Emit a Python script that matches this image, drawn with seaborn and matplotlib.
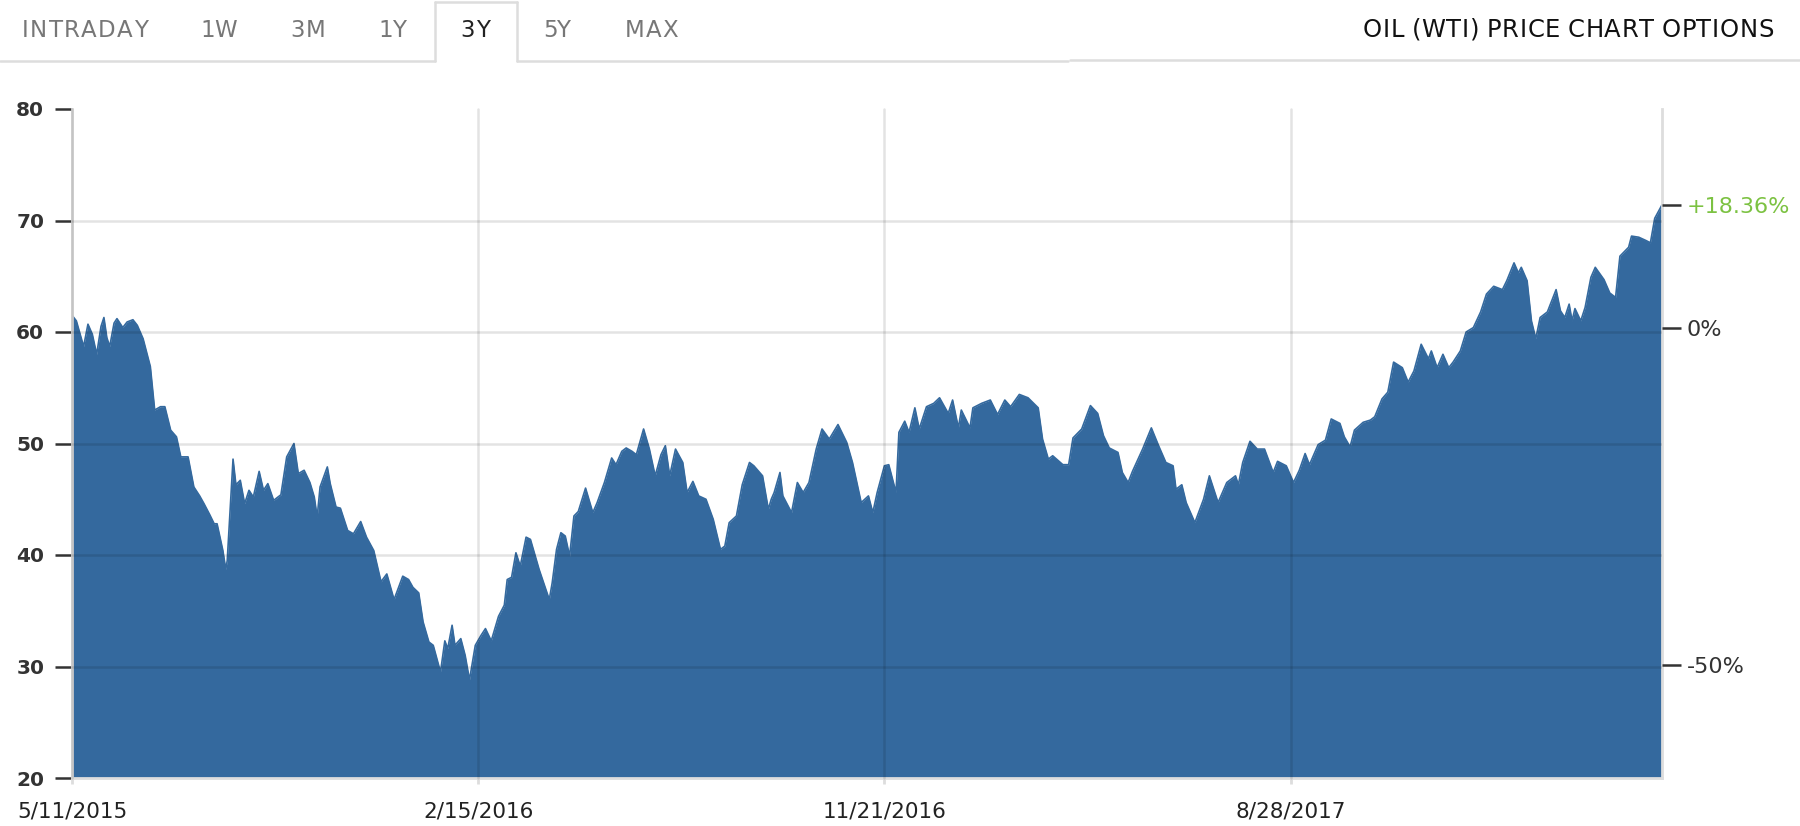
import matplotlib
matplotlib.use("Agg")
import matplotlib.pyplot as plt
from matplotlib.lines import Line2D
from matplotlib.font_manager import FontProperties
import seaborn as sns
import pandas as pd

# WTI close, days after 5/11/2015
start_date = "2015-05-11"
days = [0, 3, 8, 11, 14, 17, 20, 22, 24, 26, 29, 31, 35, 38, 42, 45, 49, 54, 57, 61,
        64, 68, 72, 75, 80, 84, 88, 91, 95, 98, 100, 104, 106, 107, 111, 113, 116, 119, 122, 125,
        129, 132, 135, 139, 144, 148, 153, 156, 160, 164, 167, 169, 171, 176, 178, 182, 185, 190, 194, 199,
        203, 208, 213, 217, 222, 228, 232, 235, 239, 242, 246, 249, 254, 257, 259, 262, 264, 268, 271, 274,
        278, 282, 285, 289, 294, 298, 300, 303, 306, 309, 313, 316, 322, 329, 331, 334, 337, 340, 343, 346,
        349, 354, 359, 362, 367, 372, 375, 379, 382, 386, 389, 394, 398, 402, 406, 409, 412, 416, 421, 424,
        428, 432, 437, 442, 447, 450, 453, 458, 462, 467, 470, 476, 480, 482, 484, 488, 490, 496, 500, 504,
        508, 513, 517, 522, 528, 534, 538, 544, 549, 552, 555, 560, 563, 568, 570, 574, 577, 581, 584, 589,
        594, 598, 604, 607, 611, 613, 619, 621, 627, 633, 638, 643, 647, 653, 659, 666, 669, 673, 676, 683,
        687, 690, 696, 702, 707, 711, 715, 721, 724, 728, 731, 738, 744, 749, 754, 759, 761, 765, 768, 774,
        780, 784, 790, 796, 802, 804, 807, 812, 817, 822, 828, 831, 837, 842, 846, 850, 853, 859, 864, 868,
        874, 877, 881, 884, 890, 895, 898, 903, 907, 911, 917, 921, 925, 930, 935, 937, 941, 945, 949, 952,
        957, 961, 966, 971, 975, 980, 986, 989, 994, 997, 999, 1003, 1006, 1009, 1012, 1017, 1020, 1023, 1026, 1029,
        1032, 1034, 1036, 1040, 1043, 1047, 1050, 1056, 1060, 1064, 1067, 1073, 1075, 1080, 1085, 1088, 1091, 1096]
price = [61.5, 61.0, 58.7, 60.7, 59.8, 58.0, 60.5, 61.3, 59.5, 58.7, 60.8, 61.2, 60.4, 60.9, 61.1, 60.6, 59.4, 56.9, 53.0, 53.3,
         53.3, 51.2, 50.6, 48.8, 48.8, 46.1, 45.3, 44.6, 43.6, 42.8, 42.8, 40.4, 38.7, 39.5, 48.6, 46.3, 46.7, 44.6, 45.8, 45.2,
         47.5, 45.8, 46.4, 44.9, 45.4, 48.8, 50.0, 47.3, 47.6, 46.5, 45.2, 43.4, 46.1, 47.9, 46.4, 44.3, 44.2, 42.2, 41.9, 43.0,
         41.6, 40.4, 37.6, 38.3, 36.0, 38.1, 37.8, 37.1, 36.6, 34.0, 32.2, 31.9, 29.5, 32.3, 31.6, 33.7, 31.9, 32.5, 31.0, 28.8,
         31.9, 32.8, 33.4, 32.3, 34.5, 35.5, 37.8, 38.0, 40.2, 39.0, 41.6, 41.4, 38.7, 36.0, 37.5, 40.5, 42.0, 41.7, 39.9, 43.5,
         43.9, 46.0, 43.8, 44.7, 46.5, 48.7, 48.1, 49.3, 49.6, 49.3, 49.0, 51.3, 49.5, 47.1, 49.0, 49.8, 47.1, 49.5, 48.3, 45.6,
         46.6, 45.3, 45.0, 43.2, 40.5, 40.8, 42.9, 43.5, 46.3, 48.3, 48.0, 47.1, 44.1, 45.0, 45.6, 47.4, 45.3, 43.8, 46.5, 45.6,
         46.5, 49.5, 51.3, 50.4, 51.7, 50.1, 48.3, 44.7, 45.3, 43.8, 45.6, 48.0, 48.1, 45.6, 51.0, 52.0, 51.0, 53.2, 51.3, 53.3,
         53.6, 54.1, 52.7, 53.9, 51.4, 53.0, 51.4, 53.2, 53.6, 53.9, 52.6, 53.9, 53.3, 54.4, 54.1, 53.2, 50.4, 48.6, 48.9, 48.1,
         48.1, 50.5, 51.3, 53.4, 52.7, 50.7, 49.6, 49.2, 47.4, 46.5, 47.5, 49.5, 51.4, 49.8, 48.3, 48.0, 45.9, 46.3, 44.7, 42.9,
         45.0, 47.1, 44.7, 46.5, 47.1, 46.3, 48.3, 50.2, 49.5, 49.5, 47.4, 48.4, 48.0, 46.5, 47.6, 49.1, 48.1, 49.9, 50.3, 52.2,
         51.8, 50.6, 49.7, 51.2, 51.9, 52.1, 52.4, 54.0, 54.6, 57.3, 56.8, 55.5, 56.5, 58.9, 57.6, 58.3, 56.8, 58.0, 56.8, 57.3,
         58.3, 60.0, 60.4, 61.8, 63.4, 64.1, 63.8, 64.6, 66.2, 65.3, 65.8, 64.6, 61.0, 59.4, 61.3, 61.8, 62.8, 63.8, 61.9, 61.3,
         62.5, 61.0, 62.1, 61.0, 62.2, 64.9, 65.8, 64.7, 63.5, 63.1, 66.8, 67.6, 68.6, 68.5, 68.2, 68.0, 70.2, 71.4]

tick_dates = ["2015-05-11", "2016-02-15", "2016-11-21", "2017-08-28"]
tick_labels = ["5/11/2015", "2/15/2016", "11/21/2016", "8/28/2017"]
y_ticks = [20, 30, 40, 50, 60, 70, 80]
change_pct = 18.36
pct_ticks = [0, -50]

tabs = ["INTRADAY", "1W", "3M", "1Y", "3Y", "5Y", "MAX"]
active_tab = "3Y"
title = "OIL (WTI) PRICE CHART OPTIONS"

FILL = "#34699e"
GREEN = "#7cc242"
GRID = (0, 0, 0, 0.11)

sns.set_theme(style="white")
plt.rcParams["font.family"] = ["DejaVu Sans"]

W, H = 1800, 826
fig = plt.figure(figsize=(W / 100, H / 100), dpi=100)
ax = fig.add_axes([72 / W, 1 - 778 / H, (1662 - 72) / W, (778 - 109) / H])

df = pd.DataFrame({"date": pd.Timestamp(start_date) + pd.to_timedelta(days, unit="D"),
                   "price": price})

ax.fill_between(df["date"], df["price"], y_ticks[0], color=FILL, lw=0, zorder=1)
sns.lineplot(data=df, x="date", y="price", color=FILL, lw=1.2, ax=ax, zorder=2)

ax.set_xlim(df["date"].iloc[0], df["date"].iloc[-1])
ax.set_ylim(y_ticks[0], y_ticks[-1])
ax.set_xlabel("")
ax.set_ylabel("")

# grid on top of the fill, so it shows a bit darker through the blue
for v in y_ticks[1:-1]:
    ax.axhline(v, color=GRID, lw=1.8, zorder=3)
for d in tick_dates:
    ax.axvline(pd.Timestamp(d), color=GRID, lw=1.8, zorder=3, clip_on=False)

ax.set_yticks(y_ticks)
ax.set_yticklabels([str(v) for v in y_ticks])
ax.set_xticks(pd.to_datetime(tick_dates))
ax.set_xticklabels(tick_labels)
ax.tick_params(axis="y", length=12, width=1.8, color="#333333", pad=8,
               labelsize=14.5, labelcolor="#333333", left=True)
ax.tick_params(axis="x", length=4, width=2, color="#dddddd", pad=13,
               labelsize=15.5, labelcolor="#222222", bottom=True)
for lbl in ax.get_yticklabels():
    lbl.set_fontweight("bold")

ax.spines["top"].set_visible(False)
for s in ["left", "right", "bottom"]:
    ax.spines[s].set_color("#dddddd")
    ax.spines[s].set_linewidth(2)

# right axis: change vs. the start of the period
last = price[-1]
base = last / (1 + change_pct / 100)
ax2 = ax.twinx()
ax2.set_ylim(y_ticks[0], y_ticks[-1])
ax2.set_yticks([last] + [base * (1 + p / 100) for p in pct_ticks])
ax2.set_yticklabels([f"+{change_pct:.2f}%"] + [f"{p}%" for p in pct_ticks])
ax2.tick_params(axis="y", length=14, width=1.8, color="#333333", pad=4,
                labelsize=16, labelcolor="#333333", right=True)
ax2.get_yticklabels()[0].set_color(GREEN)
ax2.grid(False)
for s in ax2.spines.values():
    s.set_visible(False)


# header: letter-spaced text between two x positions (pixels)
def tracked(text, left, right, base_y, size, color):
    fp = FontProperties(family="Liberation Sans Narrow", size=size)
    r = fig.canvas.get_renderer()
    ws = []
    for ch in text:
        if ch == " ":
            ws.append(size * 100 / 72 * 0.25)
        else:
            ws.append(r.get_text_width_height_descent(ch, fp, ismath=False)[0])
    gap = ((right - left) - sum(ws)) / max(len(text) - 1, 1)
    x = left
    for ch, w in zip(text, ws):
        fig.text(x / W, 1 - base_y / H, ch, fontproperties=fp, color=color,
                 ha="left", va="baseline")
        x += w + gap


def hline(x0, x1, y0, y1):
    fig.add_artist(Line2D([x0 / W, x1 / W], [1 - y0 / H, 1 - y1 / H],
                          transform=fig.transFigure, color="#dddddd", lw=1.8))


tab_span = {"INTRADAY": (22, 148), "1W": (200, 237), "3M": (290, 325), "1Y": (378, 406),
            "3Y": (460, 490), "5Y": (543, 570), "MAX": (625, 678)}
for t in tabs:
    l, r_ = tab_span[t]
    tracked(t, l, r_, 37, 16.5, "#222222" if t == active_tab else "#777777")

tracked(title, 1363, 1774, 37, 17.5, "#111111")

hline(0, 435, 61, 61)
hline(435, 435, 61, 2)
hline(435, 517, 2, 2)
hline(517, 517, 2, 61)
hline(517, 1068, 61, 61)
hline(1070, 1800, 60, 60)

fig.savefig("out.png", dpi=100)
